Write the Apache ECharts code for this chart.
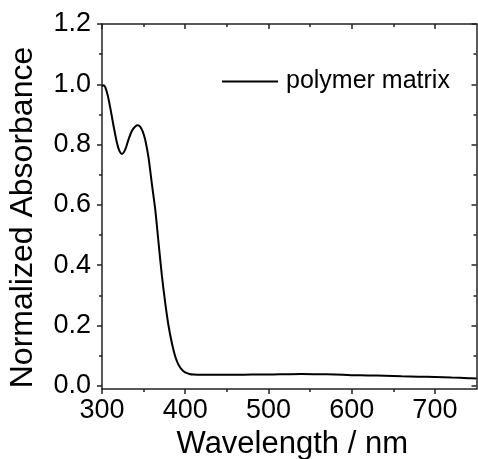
<!DOCTYPE html>
<html>
<head>
<meta charset="utf-8">
<style>
  html, body { margin: 0; padding: 0; background: #fff; }
  #chart { width: 478px; height: 459px; }
</style>
<script src="https://cdn.jsdelivr.net/npm/echarts@6/dist/echarts.min.js"></script>
</head>
<body>
<div id="chart"></div>
<script>
// UV-vis spectrum of the polymer matrix (normalized absorbance vs wavelength)
const wavelength = [300, 302, 304, 307, 310, 314, 318, 321, 324, 328, 332, 336, 340, 343, 346, 349, 352, 356, 360, 364,
  368, 372, 376, 380, 384, 388, 392, 396, 400, 405, 410, 420, 440, 460, 480, 500, 520, 540, 560, 580,
  600, 620, 640, 660, 680, 700, 720, 740, 750];
const absorbance = [0.993, 0.997, 0.990, 0.962, 0.921, 0.860, 0.805, 0.778, 0.769, 0.784, 0.818, 0.846, 0.860, 0.864, 0.859, 0.843, 0.815, 0.755, 0.668, 0.584,
  0.473, 0.364, 0.274, 0.198, 0.141, 0.097, 0.069, 0.053, 0.044, 0.039, 0.037, 0.036, 0.036, 0.036, 0.037, 0.037, 0.038, 0.039, 0.038, 0.037,
  0.035, 0.034, 0.033, 0.031, 0.030, 0.029, 0.027, 0.025, 0.024];
const seriesName = 'polymer matrix';

const xMajor = [300, 400, 500, 600, 700];
const xMinor = [350, 450, 550, 650];
const yMajor = [0, 0.2, 0.4, 0.6, 0.8, 1.0, 1.2];
const yMinor = [0.1, 0.3, 0.5, 0.7, 0.9, 1.1];

const X_MIN = 300, X_MAX = 750, Y_MIN = -0.011, Y_MAX = 1.2;
const FONT = '"Liberation Sans", Arial, sans-serif';
const AXIS_COLOR = '#222';

const gridBox = { left: 102, right: 1.5, top: 24, bottom: 70, outerBoundsMode: 'none', containLabel: false };

function xAxisDef(gridIndex, position, ticks, len, inside, withLine, labels) {
  return {
    type: 'value', gridIndex, position, min: X_MIN, max: X_MAX,
    axisLine: { show: withLine, onZero: false, lineStyle: { color: AXIS_COLOR, width: 1.5 } },
    axisTick: { show: true, inside, length: len, customValues: ticks, lineStyle: { color: AXIS_COLOR, width: 1.5 } },
    axisLabel: labels ? {
      show: true, customValues: xMajor, margin: 8, color: '#000',
      fontFamily: FONT, fontSize: 27
    } : { show: false },
    splitLine: { show: false },
    name: labels ? 'Wavelength / nm' : '',
    nameLocation: 'middle', nameGap: 38,
    nameTextStyle: { fontFamily: FONT, fontSize: 31, color: '#000', padding: [0, 0, 0, 6] }
  };
}

function yAxisDef(gridIndex, position, ticks, len, inside, withLine, labels) {
  return {
    type: 'value', gridIndex, position, min: Y_MIN, max: Y_MAX,
    axisLine: { show: withLine, onZero: false, lineStyle: { color: AXIS_COLOR, width: 1.5 } },
    axisTick: { show: true, inside, length: len, customValues: ticks, lineStyle: { color: AXIS_COLOR, width: 1.5 } },
    axisLabel: labels ? {
      show: true, customValues: yMajor, margin: 11, color: '#000',
      fontFamily: FONT, fontSize: 27,
      formatter: v => v.toFixed(1)
    } : { show: false },
    splitLine: { show: false },
    name: labels ? 'Normalized Absorbance' : '',
    nameLocation: 'middle', nameGap: 63, nameRotate: 90,
    nameTextStyle: { fontFamily: FONT, fontSize: 32, color: '#000', padding: [0, 22, 0, 0] }
  };
}

const chart = echarts.init(document.getElementById('chart'), null, { renderer: 'canvas' });
chart.setOption({
  animation: false,
  backgroundColor: '#fff',
  grid: [gridBox, gridBox, gridBox, gridBox],
  xAxis: [
    xAxisDef(0, 'bottom', xMajor, 5, false, true, true),
    xAxisDef(1, 'top', xMajor, 5, true, true, false),
    xAxisDef(2, 'bottom', xMinor, 3, false, false, false),
    xAxisDef(3, 'top', xMinor, 3, true, false, false)
  ],
  yAxis: [
    yAxisDef(0, 'left', yMajor, 5, false, true, true),
    yAxisDef(1, 'right', yMajor, 5, true, true, false),
    yAxisDef(2, 'left', yMinor, 3, false, false, false),
    yAxisDef(3, 'right', yMinor, 3, true, false, false)
  ],
  legend: {
    show: true, left: 217, top: 64,
    itemWidth: 56, itemHeight: 2,
    textStyle: { fontFamily: FONT, fontSize: 25, color: '#000', padding: [0, 0, 0, 3] },
    data: [{ name: seriesName, icon: 'rect', itemStyle: { color: '#000' } }]
  },
  series: [{
    name: seriesName,
    type: 'line',
    xAxisIndex: 0, yAxisIndex: 0,
    data: wavelength.map((w, i) => [w, absorbance[i]]),
    showSymbol: false, symbol: 'none',
    smooth: 0.25,
    lineStyle: { color: '#000', width: 2 },
    itemStyle: { color: '#000' }
  }]
});
</script>
</body>
</html>
